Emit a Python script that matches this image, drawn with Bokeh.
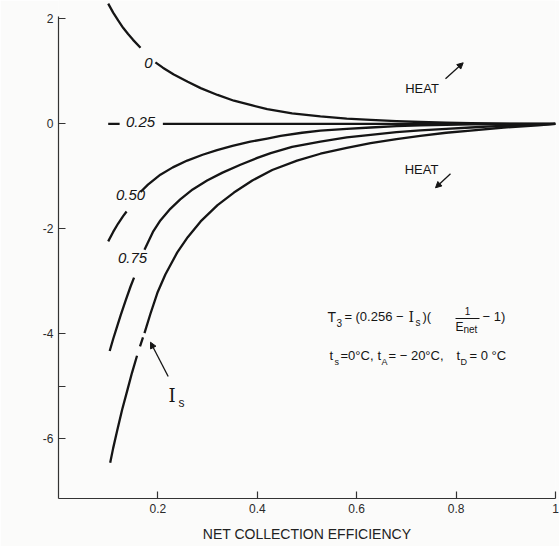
import numpy as np
from bokeh.plotting import figure
from bokeh.models import FixedTicker, Label, Arrow, NormalHead, Range1d
from bokeh.embed import file_html
from bokeh.resources import INLINE

# ---------------- data ----------------
curve_labels = ["0", "0.25", "0.50", "0.75", "1.0"]

E_0 = [0.10, 0.11, 0.12, 0.13, 0.14, 0.15, 0.165, 0.195, 0.21, 0.232, 0.26, 0.286, 0.32, 0.353,
       0.39, 0.42, 0.47, 0.527, 0.58, 0.628, 0.68, 0.728, 0.78, 0.83, 0.92, 1.0]
dI_0 = [2.29, 2.12, 1.97, 1.83, 1.71, 1.60, 1.45, 1.17, 1.07, 0.94, 0.80, 0.68, 0.55, 0.44,
        0.35, 0.28, 0.20, 0.14, 0.10, 0.075, 0.05, 0.035, 0.02, 0.012, 0.004, 0.0]

E_25 = [0.10, 0.123, 0.21, 0.5, 1.0]
dI_25 = [0.0, 0.0, 0.0, 0.0, 0.0]

E_50 = [0.10, 0.11, 0.12, 0.13, 0.137, 0.165, 0.18, 0.205, 0.23, 0.259, 0.29, 0.319, 0.35, 0.386,
        0.42, 0.447, 0.49, 0.527, 0.58, 0.628, 0.68, 0.728, 0.78, 0.83, 0.92, 1.0]
dI_50 = [-2.24, -2.06, -1.90, -1.76, -1.67, -1.30, -1.16, -0.97, -0.83, -0.70, -0.59, -0.50, -0.42, -0.34,
         -0.28, -0.23, -0.17, -0.13, -0.095, -0.07, -0.045, -0.03, -0.02, -0.012, -0.004, 0.0]

E_75 = [0.103, 0.11, 0.118, 0.125, 0.135, 0.145, 0.152, 0.173, 0.19, 0.205, 0.225, 0.245, 0.27, 0.299,
        0.33, 0.366, 0.40, 0.427, 0.47, 0.527, 0.58, 0.628, 0.68, 0.728, 0.78, 0.829, 0.88, 0.93, 1.0]
dI_75 = [-4.33, -4.10, -3.86, -3.65, -3.37, -3.10, -2.93, -2.40, -2.06, -1.84, -1.62, -1.44, -1.25, -1.08,
         -0.93, -0.78, -0.65, -0.56, -0.44, -0.34, -0.26, -0.21, -0.16, -0.125, -0.095, -0.07, -0.045, -0.03, 0.0]

E_100 = [0.104, 0.11, 0.118, 0.128, 0.139, 0.148, 0.158, 0.164, 0.170, 0.173, 0.185, 0.199, 0.215, 0.239,
         0.26, 0.286, 0.32, 0.353, 0.39, 0.43, 0.48, 0.527, 0.58, 0.628, 0.68, 0.728, 0.78, 0.829, 0.896,
         0.965, 1.0]
dI_100 = [-6.46, -6.18, -5.85, -5.45, -5.06, -4.74, -4.42, -4.24, -4.07, -3.99, -3.62, -3.22, -2.87, -2.45,
          -2.16, -1.86, -1.55, -1.31, -1.08, -0.88, -0.70, -0.57, -0.46, -0.37, -0.29, -0.23, -0.17, -0.13, -0.07,
          -0.03, 0.0]

x_ticks = [0.2, 0.4, 0.6, 0.8, 1.0]
y_ticks = [2, 0, -2, -4, -5, -6]
y_tick_labels = ["2", "0", "-2", "-4", "", "-6"]

# ---------------- layout / style ----------------
W, H = 559, 546
FL, FR, FT, FB = 58, 4, 0, 48
X0, X1 = 0.0, 1.0
Y0, Y1 = -7.14, 2.35
fw = W - FL - FR
fh = H - FT - FB
BG = "#fbfbfa"
INK = "#151515"


def dx(px):
    return X0 + (px - FL) / fw * (X1 - X0)


def dy(py):
    return Y1 - (py - FT) / fh * (Y1 - Y0)


p = figure(width=W, height=H, x_range=Range1d(X0, X1), y_range=Range1d(Y0, Y1),
           output_backend="svg", toolbar_location=None,
           min_border_left=FL, min_border_right=FR, min_border_top=FT, min_border_bottom=FB,
           background_fill_color=BG, border_fill_color=BG, outline_line_color=None)
p.grid.visible = False

for ax in (p.xaxis[0], p.yaxis[0]):
    ax.major_tick_in = 7
    ax.major_tick_out = 0
    ax.minor_tick_in = 0
    ax.minor_tick_out = 0
    ax.axis_line_color = "#333333"
    ax.axis_line_width = 1.2
    ax.major_tick_line_color = "#333333"
    ax.major_tick_line_width = 1.2
    ax.major_label_text_font = "Liberation Sans"
    ax.major_label_text_font_size = "12px"
    ax.major_label_text_color = "#2a2a2a"
    ax.major_label_standoff = 5

p.xaxis.ticker = FixedTicker(ticks=x_ticks, minor_ticks=[])
p.yaxis.ticker = FixedTicker(ticks=y_ticks, minor_ticks=[])
p.yaxis.major_label_overrides = {t: l for t, l in zip(y_ticks, y_tick_labels)}
p.xaxis.bounds = (0.0, 1.0)
p.yaxis.bounds = (Y0, 2.04)

p.xaxis.axis_label = "NET COLLECTION EFFICIENCY"
p.xaxis.axis_label_text_font = "Liberation Sans"
p.xaxis.axis_label_text_font_size = "14px"
p.xaxis.axis_label_text_font_style = "normal"
p.xaxis.axis_label_text_color = "#222222"
p.xaxis.axis_label_standoff = 10

# y-axis title, placed where the reference has it
p.add_layout(Label(x=dx(20), y=dy(270), text="ΔI", text_font="DejaVu Serif",
                   text_font_size="17px", text_color="#222222",
                   text_align="center", text_baseline="middle"))

# ---------------- curves (broken where labels sit) ----------------
curves = [(E_0, dI_0, [(0.165, 0.195)]),
          (E_25, dI_25, [(0.123, 0.21)]),
          (E_50, dI_50, [(0.137, 0.165)]),
          (E_75, dI_75, [(0.152, 0.173)]),
          (E_100, dI_100, [(0.158, 0.164), (0.170, 0.173)])]


def broken(E, I, gaps):
    xs, ys = [], []
    for i in range(len(E)):
        xs.append(E[i])
        ys.append(I[i])
        if i + 1 < len(E):
            for g0, g1 in gaps:
                if E[i] >= g0 - 1e-9 and E[i + 1] <= g1 + 1e-9:
                    xs.append(np.nan)
                    ys.append(np.nan)
    return np.array(xs, dtype=float), np.array(ys, dtype=float)


for E, I, gaps in curves:
    xs, ys = broken(E, I, gaps)
    p.line(xs, ys, line_color=INK, line_width=2.3, line_join="round")

# ---------------- curve labels ----------------
label_pos = {"0": (148, 62), "0.25": (140, 121), "0.50": (130, 194), "0.75": (132, 257.5)}
for name in curve_labels[:4]:
    px, py = label_pos[name]
    p.add_layout(Label(x=dx(px), y=dy(py), text=name, text_font="Liberation Sans",
                       text_font_style="italic", text_font_size="15px", text_color=INK,
                       text_align="center", text_baseline="middle"))

# ---------------- HEAT annotations ----------------
for (px, py) in [(421.5, 87.5), (421, 169)]:
    p.add_layout(Label(x=dx(px), y=dy(py), text="HEAT", text_font="Liberation Sans",
                       text_font_size="13px", text_color=INK,
                       text_align="center", text_baseline="middle"))

for (x0, y0, x1, y1) in [(445, 78.3, 462.7, 62.3), (450, 173.3, 435, 187.3), (167.7, 376, 150, 341.7)]:
    p.add_layout(Arrow(x_start=dx(x0), y_start=dy(y0), x_end=dx(x1), y_end=dy(y1),
                       line_color=INK, line_width=1.3,
                       end=NormalHead(size=6, fill_color=INK, line_color=INK)))

# I_s label
p.add_layout(Label(x=dx(171.5), y=dy(395), text="I", text_font="DejaVu Serif",
                   text_font_size="18px", text_color=INK, text_align="center", text_baseline="middle"))
p.add_layout(Label(x=dx(181), y=dy(402.5), text="s", text_font="Liberation Sans",
                   text_font_size="12px", text_color=INK, text_align="center", text_baseline="middle"))

# ---------------- formula text ----------------
pieces = [
    ("T", 327, 316, "14px", "Liberation Sans", "left"),
    ("3", 336, 322, "10px", "Liberation Sans", "left"),
    ("=", 344, 316, "13px", "Liberation Sans", "left"),
    ("(0.256 −", 355, 316, "13px", "Liberation Sans", "left"),
    ("I", 408, 316, "14px", "DejaVu Serif", "left"),
    ("s", 415, 322, "10px", "Liberation Sans", "left"),
    (")(", 422, 316, "13px", "Liberation Sans", "left"),
    ("1", 467, 310, "10px", "Liberation Sans", "center"),
    ("E", 455, 326, "12px", "Liberation Sans", "left"),
    ("net", 463, 329, "10px", "Liberation Sans", "left"),
    ("− 1)", 482, 316, "13px", "Liberation Sans", "left"),
    ("t", 329, 355, "13px", "Liberation Sans", "left"),
    ("s", 334, 361, "9px", "Liberation Sans", "left"),
    ("=0°C,", 340, 355, "13px", "Liberation Sans", "left"),
    ("t", 377, 355, "13px", "Liberation Sans", "left"),
    ("A", 381, 361, "9px", "Liberation Sans", "left"),
    ("= − 20°C,", 388, 355, "13px", "Liberation Sans", "left"),
    ("t", 456, 355, "13px", "Liberation Sans", "left"),
    ("D", 460, 361, "9px", "Liberation Sans", "left"),
    ("= 0 °C", 469, 355, "13px", "Liberation Sans", "left"),
]
for txt, px, py, size, font, align in pieces:
    p.add_layout(Label(x=dx(px), y=dy(py), text=txt, text_font=font, text_font_size=size,
                       text_color=INK, text_align=align, text_baseline="middle"))

# fraction bar
p.segment(x0=[dx(455)], y0=[dy(318)], x1=[dx(479)], y1=[dy(318)], line_color=INK, line_width=1)

open("out.html", "w").write(file_html(p, INLINE))
